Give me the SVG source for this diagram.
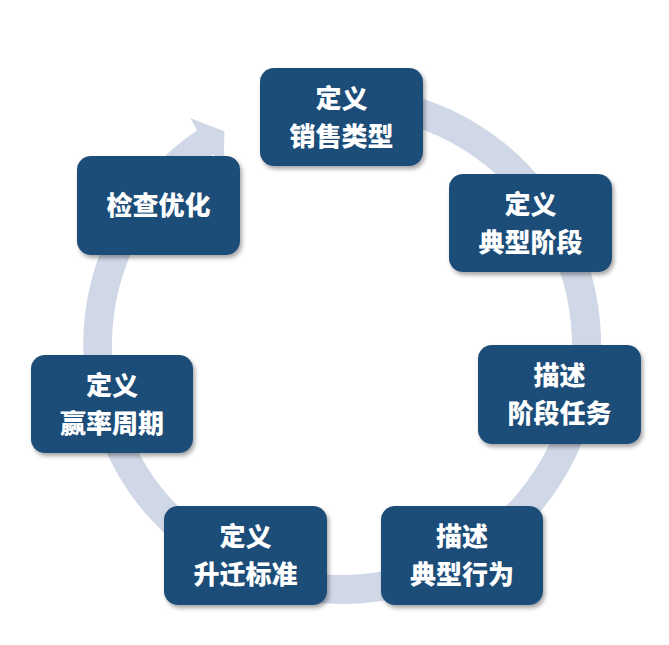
<svg xmlns="http://www.w3.org/2000/svg" width="669" height="645" viewBox="0 0 669 645">
  <defs>
    <filter id="shadow" x="-10%" y="-10%" width="125%" height="130%">
      <feDropShadow dx="2" dy="3" stdDeviation="2" flood-color="#000" flood-opacity="0.35"/>
    </filter>
    <style>
      .box { fill: #1F4E79; filter: url(#shadow); }
      .label { fill: #FFFFFF; font-family: "Noto Sans CJK SC", "Noto Sans", sans-serif; font-weight: 900; font-size: 26px; text-anchor: middle; }
      .ring { fill: #D0D7E6; stroke: none; }
    </style>
  </defs>
  <rect width="669" height="645" fill="#FFFFFF"/>
  <g id="connectors">
    <path class="ring" d="M 297.0 89.9 A 259 259 0 1 1 197.2 130.3 L 190.1 118.1 L 224.4 131.2 L 223.5 168.0 L 213.4 154.3 A 230 230 0 1 0 302.1 118.5 Z"/>
  </g>
  <g id="node-sales-type">
    <rect class="box" x="260" y="68" width="163" height="98" rx="14"/>
    <text class="label" x="341.5" y="107.5">定义</text>
    <text class="label" x="341.5" y="145.5">销售类型</text>
  </g>
  <g id="node-typical-stage">
    <rect class="box" x="449" y="174" width="163" height="98" rx="14"/>
    <text class="label" x="530.5" y="213.5">定义</text>
    <text class="label" x="530.5" y="251.5">典型阶段</text>
  </g>
  <g id="node-stage-task">
    <rect class="box" x="478" y="345" width="163" height="99" rx="14"/>
    <text class="label" x="559.5" y="385">描述</text>
    <text class="label" x="559.5" y="423">阶段任务</text>
  </g>
  <g id="node-typical-behavior">
    <rect class="box" x="381" y="506" width="162" height="99" rx="14"/>
    <text class="label" x="462" y="546">描述</text>
    <text class="label" x="462" y="584">典型行为</text>
  </g>
  <g id="node-promotion-standard">
    <rect class="box" x="164" y="506" width="163" height="99" rx="14"/>
    <text class="label" x="245.5" y="546">定义</text>
    <text class="label" x="245.5" y="584">升迁标准</text>
  </g>
  <g id="node-win-rate-cycle">
    <rect class="box" x="31" y="355" width="162" height="98" rx="14"/>
    <text class="label" x="112" y="394.5">定义</text>
    <text class="label" x="112" y="432.5">赢率周期</text>
  </g>
  <g id="node-check-optimize">
    <rect class="box" x="77" y="156" width="163" height="99" rx="14"/>
    <text class="label" x="158.5" y="215">检查优化</text>
  </g>
</svg>
